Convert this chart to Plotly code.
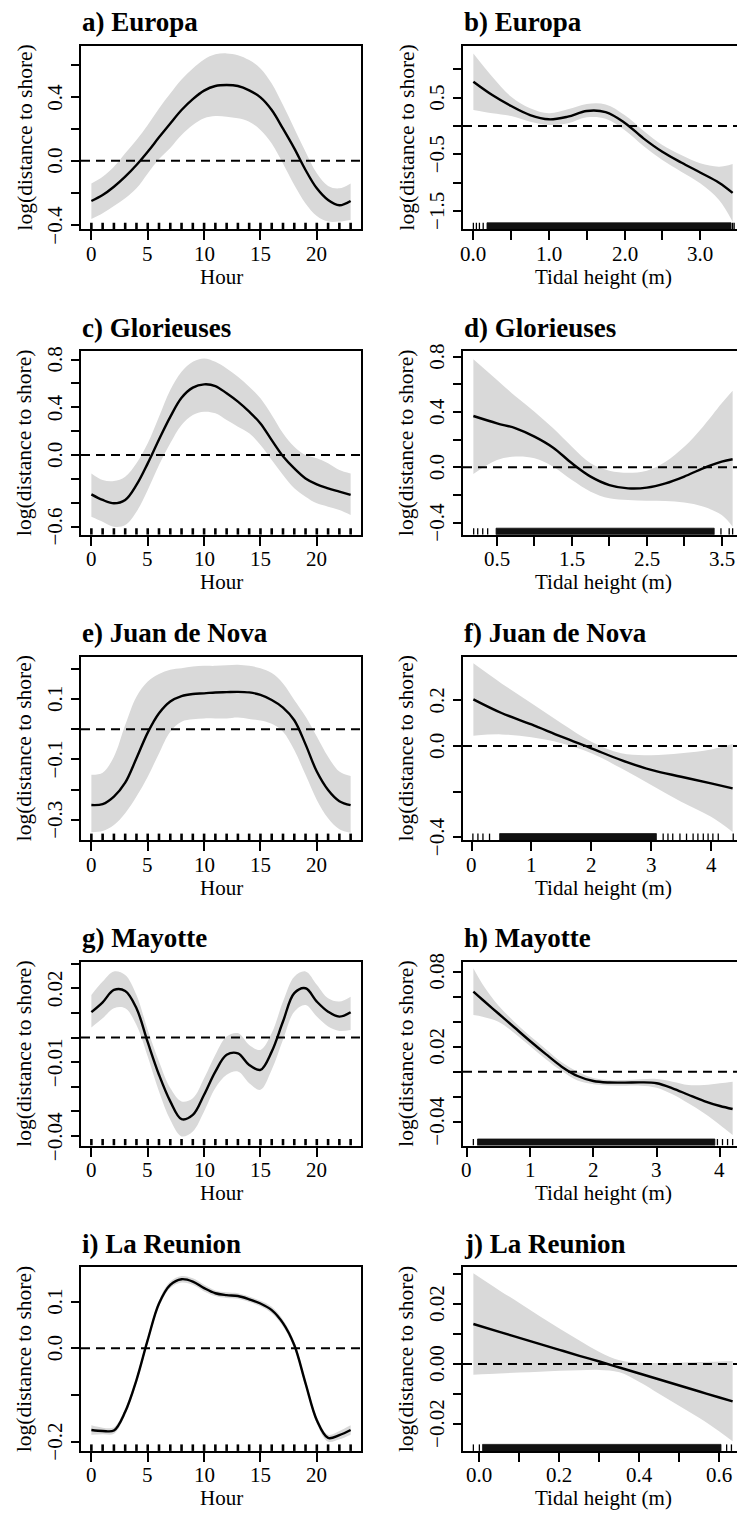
import plotly.graph_objects as go

W, H = 737, 1519
FONT = "Liberation Serif, Times New Roman, serif"
GRAY = "#d9d9d9"

# ---------------- data ----------------
hours = list(range(24))

a_fit = [-0.252, -0.215, -0.163, -0.100, -0.027, 0.056, 0.146, 0.233, 0.317, 0.385, 0.438, 0.467,
         0.473, 0.467, 0.440, 0.396, 0.317, 0.200, 0.077, -0.058, -0.173, -0.246, -0.279, -0.252]
a_up = [-0.142, -0.100, -0.038, 0.046, 0.129, 0.223, 0.327, 0.420, 0.508, 0.577, 0.633, 0.665,
        0.671, 0.660, 0.629, 0.577, 0.483, 0.348, 0.202, 0.056, -0.079, -0.158, -0.173, -0.142]
a_lo = [-0.365, -0.329, -0.283, -0.235, -0.173, -0.080, 0.010, 0.080, 0.160, 0.223, 0.265, 0.279,
        0.275, 0.265, 0.244, 0.192, 0.108, -0.017, -0.152, -0.267, -0.346, -0.381, -0.381, -0.371]

b_x = [0.0, 0.25, 0.5, 0.75, 1.0, 1.25, 1.5, 1.75, 2.0, 2.25, 2.5, 2.75, 3.0, 3.25, 3.43]
b_fit = [0.782, 0.547, 0.353, 0.194, 0.118, 0.165, 0.265, 0.245, 0.059, -0.218, -0.455, -0.645,
         -0.820, -1.000, -1.180]
b_up = [1.280, 0.870, 0.518, 0.312, 0.224, 0.294, 0.388, 0.380, 0.194, -0.082, -0.335, -0.512,
        -0.659, -0.718, -0.670]
b_lo = [0.282, 0.224, 0.176, 0.076, 0.018, 0.047, 0.153, 0.130, -0.070, -0.353, -0.600, -0.806,
        -1.010, -1.306, -1.690]

c_fit = [-0.330, -0.377, -0.405, -0.377, -0.251, -0.070, 0.130, 0.320, 0.480, 0.565, 0.592, 0.578,
         0.517, 0.447, 0.363, 0.265, 0.125, -0.010, -0.112, -0.196, -0.246, -0.279, -0.307, -0.335]
c_up = [-0.154, -0.209, -0.218, -0.182, -0.070, 0.098, 0.321, 0.545, 0.698, 0.782, 0.810, 0.782,
        0.726, 0.656, 0.573, 0.475, 0.335, 0.182, 0.070, 0.000, -0.028, -0.070, -0.126, -0.154]
c_lo = [-0.517, -0.559, -0.601, -0.587, -0.475, -0.293, -0.084, 0.098, 0.251, 0.335, 0.363, 0.349,
        0.293, 0.237, 0.182, 0.084, -0.042, -0.168, -0.279, -0.349, -0.405, -0.433, -0.461, -0.503]

d_x = [0.184, 0.5, 0.75, 1.0, 1.25, 1.5, 1.75, 2.0, 2.25, 2.5, 2.75, 3.0, 3.25, 3.5, 3.646]
d_fit = [0.371, 0.318, 0.282, 0.222, 0.142, 0.029, -0.067, -0.128, -0.152, -0.147, -0.116, -0.067,
         -0.007, 0.041, 0.058]
d_up = [0.781, 0.631, 0.511, 0.402, 0.282, 0.149, 0.029, -0.024, -0.039, -0.024, 0.041, 0.149,
        0.294, 0.463, 0.554]
d_lo = [-0.048, 0.053, 0.078, 0.065, 0.005, -0.092, -0.176, -0.224, -0.236, -0.241, -0.243, -0.255,
        -0.284, -0.345, -0.429]

e_fit = [-0.251, -0.248, -0.223, -0.177, -0.096, -0.011, 0.053, 0.092, 0.110, 0.117, 0.119, 0.122,
         0.123, 0.124, 0.122, 0.114, 0.097, 0.072, 0.030, -0.050, -0.140, -0.201, -0.238, -0.251]
e_up = [-0.151, -0.144, -0.091, 0.014, 0.108, 0.158, 0.183, 0.197, 0.202, 0.208, 0.210, 0.210,
        0.212, 0.214, 0.210, 0.202, 0.186, 0.152, 0.097, 0.042, -0.024, -0.091, -0.140, -0.155]
e_lo = [-0.341, -0.337, -0.317, -0.278, -0.223, -0.157, -0.080, -0.008, 0.025, 0.033, 0.036, 0.036,
        0.036, 0.039, 0.034, 0.029, 0.018, -0.008, -0.069, -0.151, -0.234, -0.295, -0.331, -0.343]

f_x = [0.03, 0.5, 1.0, 1.5, 2.0, 2.5, 3.0, 3.5, 4.0, 4.36]
f_fit = [0.205, 0.145, 0.095, 0.041, -0.010, -0.062, -0.105, -0.135, -0.164, -0.186]
f_up = [0.363, 0.275, 0.188, 0.100, 0.019, -0.032, -0.040, -0.032, -0.015, 0.009]
f_lo = [0.045, 0.051, 0.038, 0.012, -0.032, -0.098, -0.171, -0.245, -0.311, -0.377]

g_fit = [0.0103, 0.0143, 0.0193, 0.0189, 0.0119, -0.0019, -0.0151, -0.0259, -0.0331, -0.0314,
         -0.0232, -0.0138, -0.0070, -0.0064, -0.0111, -0.0131, -0.0057, 0.0065, 0.0180, 0.0200,
         0.0146, 0.0105, 0.0085, 0.0103]
g_up = [0.0173, 0.0227, 0.0268, 0.0254, 0.0173, 0.0031, -0.0097, -0.0205, -0.0259, -0.0246,
        -0.0165, -0.0070, 0.0004, 0.0018, -0.0030, -0.0050, 0.0018, 0.0146, 0.0247, 0.0268,
        0.0214, 0.0159, 0.0146, 0.0166]
g_lo = [0.0041, 0.0078, 0.0119, 0.0119, 0.0051, -0.0077, -0.0219, -0.0334, -0.0401, -0.0381,
        -0.0300, -0.0205, -0.0151, -0.0138, -0.0185, -0.0212, -0.0131, -0.0009, 0.0105, 0.0132,
        0.0085, 0.0045, 0.0027, 0.0031]

h_x = [0.105, 0.25, 0.5, 0.75, 1.0, 1.25, 1.5, 1.75, 2.0, 2.25, 2.5, 2.75, 3.0, 3.25, 3.5, 3.75,
       4.0, 4.2]
h_fit = [0.0640, 0.0575, 0.0465, 0.0355, 0.0245, 0.0140, 0.0040, -0.0035, -0.0075, -0.0087,
         -0.0088, -0.0086, -0.0093, -0.0133, -0.0185, -0.0235, -0.0275, -0.0299]
h_up = [0.0827, 0.0700, 0.0530, 0.0400, 0.0285, 0.0180, 0.0075, 0.0000, -0.0050, -0.0067,
        -0.0067, -0.0061, -0.0059, -0.0080, -0.0107, -0.0107, -0.0093, -0.0080]
h_lo = [0.0453, 0.0440, 0.0400, 0.0310, 0.0205, 0.0100, 0.0005, -0.0070, -0.0100, -0.0110,
        -0.0112, -0.0112, -0.0128, -0.0181, -0.0253, -0.0333, -0.0427, -0.0507]

i_fit = [-0.175, -0.177, -0.176, -0.136, -0.068, 0.018, 0.096, 0.136, 0.148, 0.143, 0.129, 0.118,
         0.114, 0.112, 0.105, 0.096, 0.082, 0.054, 0.007, -0.075, -0.154, -0.192, -0.186, -0.175]
i_up = [-0.165, -0.170, -0.169, -0.129, -0.061, 0.025, 0.103, 0.143, 0.155, 0.150, 0.136, 0.124,
        0.120, 0.118, 0.111, 0.102, 0.089, 0.061, 0.014, -0.068, -0.147, -0.185, -0.177, -0.165]
i_lo = [-0.185, -0.184, -0.183, -0.143, -0.075, 0.011, 0.089, 0.129, 0.141, 0.136, 0.122, 0.112,
        0.108, 0.106, 0.099, 0.090, 0.075, 0.047, 0.000, -0.082, -0.161, -0.200, -0.195, -0.185]

j_x = [-0.015, 0.05, 0.1, 0.15, 0.2, 0.25, 0.3, 0.35, 0.4, 0.45, 0.5, 0.55, 0.6, 0.633]
j_fit = [0.0133, 0.0107, 0.0087, 0.0067, 0.0047, 0.0027, 0.0008, -0.0012, -0.0032, -0.0052,
         -0.0072, -0.0092, -0.0112, -0.0125]
j_up = [0.0302, 0.0245, 0.0203, 0.0160, 0.0118, 0.0078, 0.0040, 0.0012, 0.0004, 0.0003,
        0.0004, 0.0006, 0.0008, 0.0010]
j_lo = [-0.0036, -0.0032, -0.0029, -0.0026, -0.0023, -0.0021, -0.0020, -0.0028, -0.0060, -0.0100,
        -0.0140, -0.0180, -0.0225, -0.0258]

# rug (observed covariate values): single ticks and dense bands
rug_b_ticks = [0.0, 0.04, 0.08, 0.13, 3.43, 3.45]
rug_b_bands = [(0.18, 3.41)]
rug_d_ticks = [0.188, 0.242, 0.309, 0.375, 3.49, 3.60, 3.646]
rug_d_bands = [(0.487, 3.40)]
rug_f_ticks = [0.022, 0.106, 0.19, 0.30, 3.20, 3.28, 3.36, 3.48, 3.59, 3.70, 3.78, 3.87, 3.95,
               4.03, 4.12, 4.37]
rug_f_bands = [(0.468, 3.087)]
rug_h_ticks = [0.105, 3.96, 4.04, 4.12, 4.2]
rug_h_bands = [(0.17, 3.92)]
rug_j_ticks = [-0.015, 0.0, 0.618, 0.63]
rug_j_bands = [(0.008, 0.604)]

# y-axis ranges (as drawn) and tick values / labels
y_ranges = {
    "a": [-0.429, 0.719], "b": [-1.824, 1.418], "c": [-0.668, 0.871], "d": [-0.487, 0.840],
    "e": [-0.367, 0.241], "f": [-0.413, 0.393], "g": [-0.0438, 0.0307], "h": [-0.0591, 0.0878],
    "i": [-0.2198, 0.1736], "j": [-0.029, 0.0322],
}
M = "\u2212"
y_ticks = {
    "a": ([-0.4, -0.2, 0.0, 0.2, 0.4, 0.6], [M + "0.4", "", "0.0", "", "0.4", ""]),
    "b": ([-1.5, -1.0, -0.5, 0.0, 0.5, 1.0], [M + "1.5", "", M + "0.5", "", "0.5", ""]),
    "c": ([-0.6, -0.4, -0.2, 0.0, 0.2, 0.4, 0.6, 0.8], [M + "0.6", "", "", "0.0", "", "0.4", "", "0.8"]),
    "d": ([-0.4, -0.2, 0.0, 0.2, 0.4, 0.6, 0.8], [M + "0.4", "", "0.0", "", "0.4", "", "0.8"]),
    "e": ([-0.3, -0.2, -0.1, 0.0, 0.1, 0.2], [M + "0.3", "", M + "0.1", "", "0.1", ""]),
    "f": ([-0.4, -0.2, 0.0, 0.2], [M + "0.4", "", "0.0", "0.2"]),
    "g": ([-0.04, -0.03, -0.02, -0.01, 0.0, 0.01, 0.02, 0.03],
          [M + "0.04", "", "", M + "0.01", "", "", "0.02", ""]),
    "h": ([-0.04, -0.02, 0.0, 0.02, 0.04, 0.06, 0.08], [M + "0.04", "", "", "0.02", "", "", "0.08"]),
    "i": ([-0.2, -0.1, 0.0, 0.1], [M + "0.2", "", "0.0", "0.1"]),
    "j": ([-0.02, -0.01, 0.0, 0.01, 0.02, 0.03], [M + "0.02", "", "0.00", "", "0.02", ""]),
}
hour_ticks = ([0, 5, 10, 15, 20], ["0", "5", "10", "15", "20"])
x_ticks = {
    "a": hour_ticks, "c": hour_ticks, "e": hour_ticks, "g": hour_ticks, "i": hour_ticks,
    "b": ([0.0, 0.5, 1.0, 1.5, 2.0, 2.5, 3.0], ["0.0", "", "1.0", "", "2.0", "", "3.0"]),
    "d": ([0.5, 1.0, 1.5, 2.0, 2.5, 3.0, 3.5], ["0.5", "", "1.5", "", "2.5", "", "3.5"]),
    "f": ([0, 1, 2, 3, 4], ["0", "1", "2", "3", "4"]),
    "h": ([0, 1, 2, 3, 4], ["0", "1", "2", "3", "4"]),
    "j": ([0.0, 0.1, 0.2, 0.3, 0.4, 0.5, 0.6], ["0.0", "", "0.2", "", "0.4", "", "0.6"]),
}

Y_LABEL = "log(distance to shore)"
panels = [
    ("a", "a) Europa", hours, a_fit, a_up, a_lo, "Hour", None),
    ("b", "b) Europa", b_x, b_fit, b_up, b_lo, "Tidal height (m)", (rug_b_ticks, rug_b_bands)),
    ("c", "c) Glorieuses", hours, c_fit, c_up, c_lo, "Hour", None),
    ("d", "d) Glorieuses", d_x, d_fit, d_up, d_lo, "Tidal height (m)", (rug_d_ticks, rug_d_bands)),
    ("e", "e) Juan de Nova", hours, e_fit, e_up, e_lo, "Hour", None),
    ("f", "f) Juan de Nova", f_x, f_fit, f_up, f_lo, "Tidal height (m)", (rug_f_ticks, rug_f_bands)),
    ("g", "g) Mayotte", hours, g_fit, g_up, g_lo, "Hour", None),
    ("h", "h) Mayotte", h_x, h_fit, h_up, h_lo, "Tidal height (m)", (rug_h_ticks, rug_h_bands)),
    ("i", "i) La Reunion", hours, i_fit, i_up, i_lo, "Hour", None),
    ("j", "j) La Reunion", j_x, j_fit, j_up, j_lo, "Tidal height (m)", (rug_j_ticks, rug_j_bands)),
]

# ---------------- geometry (pixels) ----------------
COL_LEFT = [81, 463]
BOX_W = 280
ROW_TOP0 = 45.7
ROW_PITCH = 305.4
BOX_H = 183.6
RUG_PX = 6.5
TICK_FONT = dict(family=FONT, size=21, color="black")

fig = go.Figure()
layout = dict(
    width=W, height=H, margin=dict(l=0, r=0, t=0, b=0),
    paper_bgcolor="white", plot_bgcolor="white", showlegend=False,
    font=dict(family=FONT, size=21, color="black"),
)
annotations = []
shapes = []


def px_x(p):
    return p / W


def px_y(p):
    return 1 - p / H


for k, (key, title, xs, fit, up, lo, xlabel, rug) in enumerate(panels):
    r, c = divmod(k, 2)
    sfx = "" if k == 0 else str(k + 1)
    xa, ya = "x" + sfx, "y" + sfx

    x0px = COL_LEFT[c]
    x1px = min(x0px + BOX_W, W)
    top = ROW_TOP0 + r * ROW_PITCH
    bot = top + BOX_H

    xmin, xmax = min(xs), max(xs)
    span = xmax - xmin
    xr0, xr1 = xmin - 0.04 * span, xmax + 0.04 * span
    xr1_vis = xr0 + (xr1 - xr0) * (x1px - x0px) / BOX_W
    yr = y_ranges[key]

    xtv, xtt = x_ticks[key]
    layout["xaxis" + sfx] = dict(
        domain=[px_x(x0px), px_x(x1px)], range=[xr0, xr1_vis], anchor=ya,
        tickvals=xtv, showticklabels=False, ticks="outside", ticklen=9, tickwidth=2,
        tickcolor="black", showline=True, linewidth=2.2, linecolor="black", mirror=True,
        showgrid=False, zeroline=False, automargin=False,
    )
    ytv, ytt = y_ticks[key]
    layout["yaxis" + sfx] = dict(
        domain=[px_y(bot), px_y(top)], range=yr, anchor=xa,
        tickvals=ytv, showticklabels=False, ticks="outside", ticklen=8, tickwidth=2,
        tickcolor="black", showline=True, linewidth=2.2, linecolor="black", mirror=(c == 0),
        showgrid=False, zeroline=False, automargin=False,
    )

    # tick labels (placed on the axes' own data coordinates)
    for v, t in zip(xtv, xtt):
        if t:
            annotations.append(dict(text=t, xref=xa, yref="paper", x=v, y=px_y(bot + 24.6),
                                    xanchor="center", yanchor="middle", showarrow=False,
                                    font=TICK_FONT))
    for v, t in zip(ytv, ytt):
        if t:
            annotations.append(dict(text=t, xref="paper", yref=ya, x=px_x(x0px - 26), y=v,
                                    textangle=-90, xanchor="center", yanchor="middle",
                                    showarrow=False, font=TICK_FONT))

    # confidence band
    fig.add_trace(go.Scatter(x=xs, y=lo, xaxis=xa, yaxis=ya, mode="lines",
                             line=dict(width=0, shape="spline", smoothing=1.0, color=GRAY),
                             hoverinfo="skip"))
    fig.add_trace(go.Scatter(x=xs, y=up, xaxis=xa, yaxis=ya, mode="lines", fill="tonexty",
                             fillcolor=GRAY,
                             line=dict(width=0, shape="spline", smoothing=1.0, color=GRAY),
                             hoverinfo="skip"))
    # zero reference line
    shapes.append(dict(type="line", xref=xa + " domain", yref=ya, x0=0, x1=1, y0=0, y1=0,
                       line=dict(color="black", width=2, dash="9px,6px")))
    # fitted smooth
    fig.add_trace(go.Scatter(x=xs, y=fit, xaxis=xa, yaxis=ya, mode="lines",
                             line=dict(color="black", width=2.4, shape="spline", smoothing=1.0)))

    # rug
    hh = RUG_PX / BOX_H * (yr[1] - yr[0])
    yb = yr[0]
    if rug is None:
        rx, ry = [], []
        for v in xs:
            rx += [v, v, None]
            ry += [yb, yb + hh, None]
        fig.add_trace(go.Scatter(x=rx, y=ry, xaxis=xa, yaxis=ya, mode="lines",
                                 line=dict(color="black", width=2.6), hoverinfo="skip"))
    else:
        ticks_, bands = rug
        rx, ry = [], []
        for v in ticks_:
            rx += [v, v, None]
            ry += [yb, yb + hh, None]
        fig.add_trace(go.Scatter(x=rx, y=ry, xaxis=xa, yaxis=ya, mode="lines",
                                 line=dict(color="black", width=1.3), hoverinfo="skip"))
        for (b0, b1) in bands:
            fig.add_trace(go.Scatter(x=[b0, b1, b1, b0, b0], y=[yb, yb, yb + hh, yb + hh, yb],
                                     xaxis=xa, yaxis=ya, mode="lines", fill="toself",
                                     fillcolor="#111111", line=dict(width=0.8, color="#111111"),
                                     hoverinfo="skip"))

    # panel title
    annotations.append(dict(text="<b>" + title + "</b>", xref="paper", yref="paper",
                            x=px_x(x0px - 1), y=px_y(top - 23.5), xanchor="left", yanchor="middle",
                            showarrow=False, font=dict(family=FONT, size=27, color="black")))
    # x-axis title
    annotations.append(dict(text=xlabel, xref="paper", yref="paper",
                            x=px_x(x0px + BOX_W / 2), y=px_y(bot + 47.5),
                            xanchor="center", yanchor="middle", showarrow=False,
                            font=dict(family=FONT, size=21, color="black")))
    # y-axis title
    annotations.append(dict(text=Y_LABEL, xref="paper", yref="paper", textangle=-90,
                            x=px_x(x0px - 57), y=px_y((top + bot) / 2),
                            xanchor="center", yanchor="middle", showarrow=False,
                            font=dict(family=FONT, size=21.5, color="black")))

layout["annotations"] = annotations
layout["shapes"] = shapes
fig.update_layout(**layout)
fig.write_html(
    "out.html",
    config={"displayModeBar": False},
    post_script="document.body.style.margin='0';document.body.style.overflow='hidden';",
)
